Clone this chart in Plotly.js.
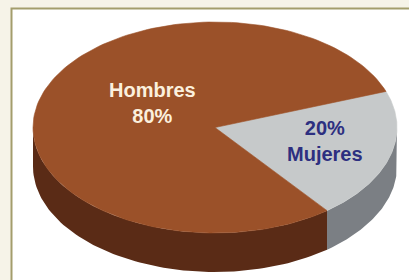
<!DOCTYPE html>
<html>
<head>
<meta charset="utf-8">
<script src="https://cdn.plot.ly/plotly-3.0.1.min.js"></script>
<style>html,body{margin:0;padding:0;background:#f6f3e8;}#chart{width:409px;height:280px;}</style>
</head>
<body>
<div id="chart"></div>
<script>
// Data
const labels = ['Mujeres', 'Hombres'];
const values = [20, 80];
const percentText = ['20%', '80%'];

// Styling
const topColors = ['#c6c9ca', '#9b5129'];
const sideColors = ['#7b7f84', '#5a2b16'];
const textColors = ['#2d2f80', '#fbf0de'];

// Geometry (pixel-like data space)
const cx = 215, cy = 127.5, rx = 182, ry = 105.5, depth = 39;
const startDeg = -52; // parametric start angle of first slice

const total = values.reduce((a, b) => a + b, 0);
const rad = d => d * Math.PI / 180;
function pt(t, dy) { return [cx + rx * Math.cos(rad(t)), cy - ry * Math.sin(rad(t)) + (dy || 0)]; }

const traces = [];
const slices = [];
let a = startDeg;
values.forEach((v, i) => {
  const span = v / total * 360;
  slices.push({i, a0: a, a1: a + span});
  a += span;
});

// Side walls (front half: parametric 180..360)
slices.forEach(s => {
  // normalise into range where front half is [180,360]
  let a0 = s.a0, a1 = s.a1;
  const segs = [];
  for (let k = -1; k <= 1; k++) {
    const lo = Math.max(a0, 180 + 360 * k), hi = Math.min(a1, 360 + 360 * k);
    if (hi > lo) segs.push([lo, hi]);
  }
  segs.forEach(([lo, hi]) => {
    const xs = [], ys = [];
    const n = 80;
    for (let j = 0; j <= n; j++) { const p = pt(lo + (hi - lo) * j / n); xs.push(p[0]); ys.push(p[1]); }
    for (let j = n; j >= 0; j--) { const p = pt(lo + (hi - lo) * j / n, depth); xs.push(p[0]); ys.push(p[1]); }
    traces.push({type: 'scatter', mode: 'lines', x: xs, y: ys, fill: 'toself', fillcolor: sideColors[s.i],
      line: {width: 0, color: sideColors[s.i]}, hoverinfo: 'skip', showlegend: false});
  });
});

// Top faces
slices.forEach(s => {
  const xs = [cx], ys = [cy];
  const n = 160;
  for (let j = 0; j <= n; j++) { const p = pt(s.a0 + (s.a1 - s.a0) * j / n); xs.push(p[0]); ys.push(p[1]); }
  xs.push(cx); ys.push(cy);
  traces.push({type: 'scatter', mode: 'lines', x: xs, y: ys, fill: 'toself', fillcolor: topColors[s.i],
    line: {width: 0.6, color: topColors[s.i]}, name: labels[s.i], hoverinfo: 'name', showlegend: false});
});

const annotations = [
  {x: 325, y: 141, text: '<b>' + percentText[0] + '</b><br><b>' + labels[0] + '</b>', font: {color: textColors[0]}},
  {x: 152, y: 103, text: '<b>' + labels[1] + '</b><br><b>' + percentText[1] + '</b>', font: {color: textColors[1]}}
].map(an => Object.assign({xref: 'x', yref: 'y', showarrow: false, align: 'center'}, an,
  {font: {family: 'Liberation Sans, Arial, sans-serif', size: 20, color: an.font.color}}));

const layout = {
  width: 409, height: 280,
  margin: {l: 0, r: 0, t: 0, b: 0},
  paper_bgcolor: '#f6f3e8',
  plot_bgcolor: 'rgba(0,0,0,0)',
  xaxis: {range: [0, 409], visible: false, fixedrange: true},
  yaxis: {range: [280, 0], visible: false, fixedrange: true},
  showlegend: false,
  annotations: annotations,
  shapes: [{type: 'rect', xref: 'x', yref: 'y', x0: 11.5, y0: 8.5, x1: 440, y1: 320,
    fillcolor: '#ffffff', line: {color: '#a39d6c', width: 2}, layer: 'below'}]
};

Plotly.newPlot('chart', traces, layout, {displayModeBar: false, staticPlot: true});
</script>
</body>
</html>
